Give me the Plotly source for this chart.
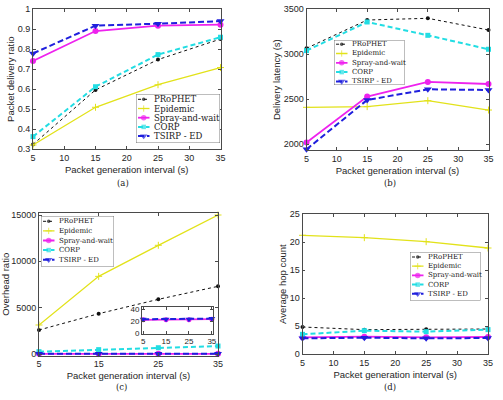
import plotly.graph_objects as go

W, H = 503, 400

# ---------------- data ----------------
x_interval = [5, 15, 25, 35]
series_names = ["PRoPHET", "Epidemic", "Spray-and-wait", "CORP", "TSIRP - ED"]

pdr_prophet = [0.323, 0.596, 0.748, 0.851]
pdr_epidemic = [0.320, 0.509, 0.622, 0.708]
pdr_spray = [0.741, 0.891, 0.918, 0.923]
pdr_corp = [0.362, 0.612, 0.773, 0.860]
pdr_tsirp = [0.779, 0.918, 0.928, 0.941]

lat_prophet = [3067, 3381, 3400, 3270]
lat_epidemic = [2411, 2419, 2485, 2381]
lat_spray = [2019, 2530, 2693, 2670]
lat_corp = [3041, 3359, 3211, 3056]
lat_tsirp = [1944, 2493, 2611, 2604]

ovh_prophet = [2590, 4350, 5900, 7300]
ovh_epidemic = [3130, 8380, 11730, 15000]
ovh_spray = [23, 23, 23, 24]
ovh_corp = [250, 470, 680, 860]
ovh_tsirp = [24, 24, 24, 25]

hop_prophet = [4.83, 4.36, 4.42, 4.47]
hop_epidemic = [21.24, 20.82, 20.10, 18.97]
hop_spray = [2.98, 3.10, 2.98, 3.04]
hop_corp = [3.52, 4.18, 4.00, 4.36]
hop_tsirp = [2.80, 2.92, 2.80, 2.86]

x_title = "Packet generation interval (s)"
y_titles = ["Packet delivery ratio", "Delivery latency (s)", "Overhead ratio", "Average hop count"]
captions = ["(a)", "(b)", "(c)", "(d)"]

# ---------------- styles ----------------
styles = {
    "PRoPHET": dict(color="#111111", width=1, dash="dot", symbol="circle", size=4),
    "Epidemic": dict(color="#e2e21a", width=1.3, dash="solid", symbol="cross-thin", size=5),
    "Spray-and-wait": dict(color="#ee22ee", width=1.8, dash="solid", symbol="circle", size=6),
    "CORP": dict(color="#22dde3", width=2, dash="5px,3px", symbol="square", size=5),
    "TSIRP - ED": dict(color="#1f1fdd", width=2, dash="6px,3px", symbol="triangle-down", size=7),
}

def marker_for(name, size=None):
    s = styles[name]
    m = dict(symbol=s["symbol"], size=s["size"] if size is None else size, color=s["color"])
    if s["symbol"] == "cross-thin":
        m["line"] = dict(color=s["color"], width=1)
    else:
        m["line"] = dict(width=0)
    return m

fig = go.Figure()

panels = [
    ("x", "y", [pdr_prophet, pdr_epidemic, pdr_spray, pdr_corp, pdr_tsirp]),
    ("x2", "y2", [lat_prophet, lat_epidemic, lat_spray, lat_corp, lat_tsirp]),
    ("x3", "y3", [ovh_prophet, ovh_epidemic, ovh_spray, ovh_corp, ovh_tsirp]),
    ("x4", "y4", [hop_prophet, hop_epidemic, hop_spray, hop_corp, hop_tsirp]),
]

for xa, ya, data in panels:
    for name, vals in zip(series_names, data):
        s = styles[name]
        fig.add_trace(go.Scatter(
            x=x_interval, y=vals, mode="lines+markers", xaxis=xa, yaxis=ya,
            line=dict(color=s["color"], width=s["width"], dash=s["dash"]),
            marker=marker_for(name), showlegend=False, cliponaxis=False, name=name))

# inset in (c)
for name, vals in [("Spray-and-wait", ovh_spray), ("TSIRP - ED", ovh_tsirp)]:
    s = styles[name]
    fig.add_trace(go.Scatter(
        x=x_interval, y=vals, mode="lines+markers", xaxis="x9", yaxis="y9",
        line=dict(color=s["color"], width=s["width"], dash=s["dash"]),
        marker=marker_for(name, size=s["size"] - 1), showlegend=False, cliponaxis=False, name=name))

AX_COLOR = "#4a4a4a"
TXT_COLOR = "#262626"
SANS = "Liberation Sans, Arial, sans-serif"
SERIF = "DejaVu Serif, serif"

def xaxis(domain, anchor, tickvals, title=True, rng=(5, 35), font=9):
    return dict(domain=domain, anchor=anchor, range=list(rng), tickvals=tickvals,
                ticktext=[str(v) for v in tickvals],
                ticks="inside", ticklen=3, tickcolor=AX_COLOR, showline=True,
                linecolor=AX_COLOR, linewidth=0.8, mirror="ticks", showgrid=False,
                zeroline=False, tickfont=dict(family=SANS, size=font, color=TXT_COLOR),
                title=dict(text=x_title if title else "", standoff=4,
                           font=dict(family=SANS, size=9.5, color=TXT_COLOR)),
                automargin=False, fixedrange=True)

def yaxis(domain, anchor, rng, tickvals, title, font=9, ticktext=None):
    return dict(domain=domain, anchor=anchor, range=list(rng), tickvals=tickvals,
                ticktext=ticktext if ticktext is not None else [str(v) for v in tickvals],
                ticks="inside", ticklen=3, tickcolor=AX_COLOR, showline=True,
                linecolor=AX_COLOR, linewidth=0.8, mirror="ticks", showgrid=False,
                zeroline=False, tickfont=dict(family=SANS, size=font, color=TXT_COLOR),
                title=dict(text=title, standoff=1,
                           font=dict(family=SANS, size=9.5, color=TXT_COLOR)),
                automargin=False, fixedrange=True)

def dx(a, b):
    return [a / W, b / W]

def dy(top, bottom):
    return [1 - bottom / H, 1 - top / H]

layout = dict(
    width=W, height=H, margin=dict(l=0, r=0, t=0, b=0),
    paper_bgcolor="white", plot_bgcolor="white", showlegend=False,
    xaxis=xaxis(dx(33, 220.5), "y", [5, 10, 15, 20, 25, 30, 35]),
    yaxis=yaxis(dy(9.3, 149), "x", (0.3, 1.0), [0.3, 0.4, 0.5, 0.6, 0.7, 0.8, 0.9, 1.0],
                y_titles[0], ticktext=["0.3", "0.4", "0.5", "0.6", "0.7", "0.8", "0.9", "1"]),
    xaxis2=xaxis(dx(306.5, 488.5), "y2", [5, 10, 15, 20, 25, 30, 35]),
    yaxis2=yaxis(dy(9.3, 150), "x2", (1937, 3500), [2000, 2500, 3000, 3500], y_titles[1]),
    xaxis3=xaxis(dx(39, 218), "y3", [5, 15, 25, 35]),
    yaxis3=yaxis(dy(213, 355.5), "x3", (-162, 15216), [0, 5000, 10000, 15000], y_titles[2]),
    xaxis4=xaxis(dx(302.5, 488), "y4", [5, 10, 15, 20, 25, 30, 35]),
    yaxis4=yaxis(dy(214.3, 354), "x4", (0, 25), [0, 5, 10, 15, 20, 25], y_titles[3]),
    xaxis9=xaxis(dx(142, 213), "y9", [5, 15, 25, 35], title=False, rng=(4.5, 35.5), font=8),
    yaxis9=yaxis(dy(306.7, 333.5), "x9", (0, 45), [0, 20, 40], "", font=8),
)

shapes = []
annotations = []

# ---------------- custom legends (compact, MATLAB-like) ----------------
legend_boxes = [
    # idx, x0, y0, x1, y1, first row y, row spacing, font size
    (5, 136, 94, 220, 143, 99.3, 9.2, 8.5),
    (6, 334, 40, 404.5, 85, 44.2, 9.3, 7),
    (7, 41, 216, 114, 266.5, 221.3, 9.6, 7),
    (8, 410, 252, 480.5, 300.5, 257, 9.2, 7),
]

for idx, x0, y0, x1, y1, r0, dr, fs in legend_boxes:
    w, h = x1 - x0, y1 - y0
    layout[f"xaxis{idx}"] = dict(domain=dx(x0, x1), range=[0, w], visible=False,
                                 fixedrange=True, anchor=f"y{idx}")
    layout[f"yaxis{idx}"] = dict(domain=dy(y0, y1), range=[h, 0], visible=False,
                                 fixedrange=True, anchor=f"x{idx}")
    shapes.append(dict(type="rect", xref=f"x{idx}", yref=f"y{idx}", x0=0, x1=w, y0=0, y1=h,
                       line=dict(color="#5a5a5a", width=0.8), fillcolor="white", layer="below"))
    for i, name in enumerate(series_names):
        s = styles[name]
        ry = r0 - y0 + i * dr
        fig.add_trace(go.Scatter(
            x=[2, 7.7, 13.5], y=[ry, ry, ry], mode="lines+markers",
            xaxis=f"x{idx}", yaxis=f"y{idx}",
            line=dict(color=s["color"], width=s["width"], dash=s["dash"]),
            marker=dict(symbol=s["symbol"], size=[0, s["size"] - 0.5, 0], color=s["color"],
                        line=dict(color=s["color"], width=1 if s["symbol"] == "cross-thin" else 0)),
            showlegend=False, cliponaxis=False, hoverinfo="skip"))
        annotations.append(dict(xref=f"x{idx}", yref=f"y{idx}", x=15.5, y=ry, text=name,
                                showarrow=False, xanchor="left", yanchor="middle",
                                font=dict(family=SERIF, size=fs, color="#222222")))

# ---------------- captions ----------------
cap_pos = [(123, 183), (390, 183), (121, 387), (390, 387)]
for txt, (cx, cy) in zip(captions, cap_pos):
    annotations.append(dict(xref="paper", yref="paper", x=cx / W, y=1 - cy / H, text=txt,
                            showarrow=False, xanchor="center", yanchor="middle",
                            font=dict(family=SERIF, size=8.5, color="#222222")))

layout["shapes"] = shapes
layout["annotations"] = annotations
fig.update_layout(**layout)

fig.write_html("out.html", config={"displayModeBar": False},
               post_script="document.body.style.margin='0px';document.body.style.overflow='hidden';")
